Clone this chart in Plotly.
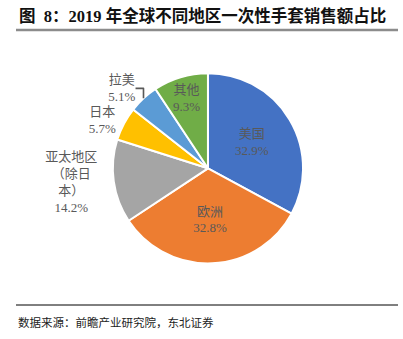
import plotly.graph_objects as go

regions = ["美国", "欧洲", "亚太地区<br>（除日<br>本）", "日本", "拉美", "其他"]
shares = [32.9, 32.8, 14.2, 5.7, 5.1, 9.3]
colors = ["#4472C4", "#ED7D31", "#A5A5A5", "#FFC000", "#5B9BD5", "#70AD47"]
positions = ["inside", "inside", "outside", "outside", "outside", "inside"]

title_text = "<b>图  8：2019 年全球不同地区一次性手套销售额占比</b>"
source_text = "数据来源：前瞻产业研究院，东北证券"

serif_mix = "Liberation Serif, Noto Sans CJK SC"

fig = go.Figure(go.Pie(
    labels=regions,
    values=shares,
    sort=False,
    direction="clockwise",
    rotation=0,
    marker=dict(colors=colors, line=dict(color="white", width=2)),
    texttemplate="%{label}<br>%{value:.1f}%",
    textposition=positions,
    insidetextorientation="horizontal",
    textfont=dict(family=serif_mix, size=13, color="#595959"),
    domain=dict(x=[0.28, 0.752], y=[0.222, 0.785]),
    showlegend=False,
    hoverinfo="none",
))

fig.update_layout(
    width=403, height=339,
    margin=dict(l=0, r=0, t=0, b=0),
    paper_bgcolor="white", plot_bgcolor="white",
    font=dict(family=serif_mix),
    shapes=[
        dict(type="line", xref="paper", yref="paper", x0=16/403, x1=398/403,
             y0=1-30/339, y1=1-30/339, line=dict(color="#8c8c8c", width=2.5)),
        dict(type="line", xref="paper", yref="paper", x0=16/403, x1=398/403,
             y0=1-305/339, y1=1-305/339, line=dict(color="#000000", width=1)),
    ],
    annotations=[
        dict(text=title_text, xref="paper", yref="paper", x=17/403, y=1-16/339,
             xanchor="left", yanchor="middle", showarrow=False,
             font=dict(family=serif_mix, size=16.5, color="#111111")),
        dict(text=source_text, xref="paper", yref="paper", x=16/403, y=1-322/339,
             xanchor="left", yanchor="middle", showarrow=False,
             font=dict(family="Noto Sans CJK SC", size=11.5, color="#222222")),
    ],
)

fig.write_html("out.html")
